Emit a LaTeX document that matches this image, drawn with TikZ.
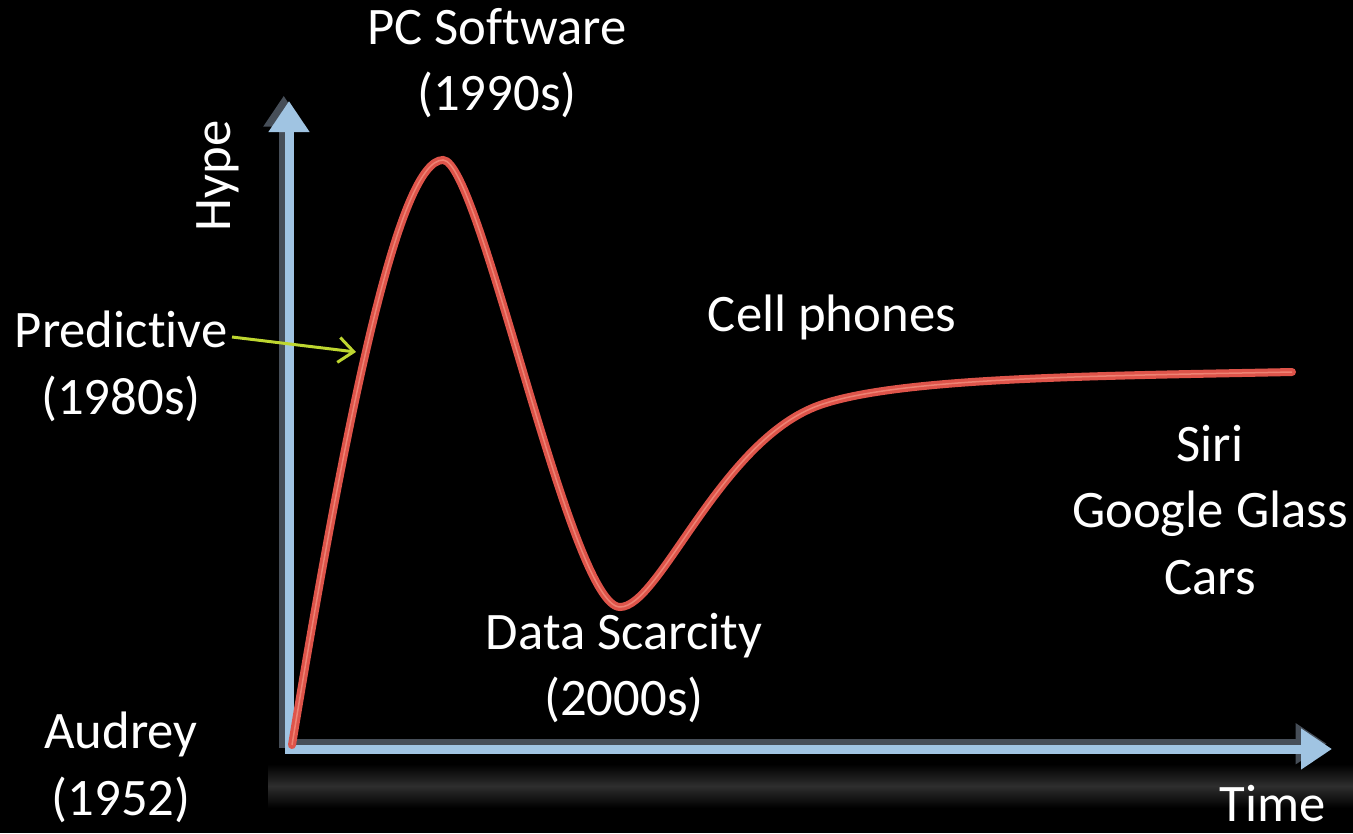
\documentclass[tikz,border=0pt]{standalone}
\usepackage{fontspec}
\setmainfont{Carlito}[Ligatures=NoCommon]
\usetikzlibrary{arrows.meta}
\definecolor{axisblue}{RGB}{160,196,226}
\definecolor{axisshadow}{RGB}{70,78,88}
\definecolor{curvered}{RGB}{222,84,74}
\definecolor{curvelight}{RGB}{238,130,115}
\definecolor{arrowgreen}{RGB}{190,214,48}
\tikzset{
  lbl/.style={text=white, font=\fontsize{30}{38}\selectfont, align=center, inner sep=0pt},
  axisline/.style={draw=axisblue, line width=0.18cm, line join=miter,
    {Triangle[width=0.78cm,length=0.62cm]}-{Triangle[width=0.78cm,length=0.62cm]}},
  shadowline/.style={draw=axisshadow, line width=0.18cm, line join=miter,
    {Triangle[width=0.78cm,length=0.62cm]}-{Triangle[width=0.78cm,length=0.62cm]}},
  curve/.style={draw=curvered, line width=0.16cm, line cap=round},
  curvehl/.style={draw=curvelight, line width=0.03cm},
  pointer/.style={draw=arrowgreen, line width=0.06cm, -{Straight Barb[length=0.3cm,width=0.5cm]}}
}
\begin{document}
\begin{tikzpicture}[x=0.02cm, y=-0.02cm]
  \fill[black] (0,0) rectangle (1353,833);
  \useasboundingbox (0,0) rectangle (1353,833);
  % floor glow
  \shade[top color=black, bottom color=black, middle color=gray!36!black] (268,764) rectangle (1353,808);
  % axes
  \coordinate (O) at (289,749);
  \coordinate (ytip) at (289,101);
  \coordinate (xtip) at (1332,749);
  \draw[shadowline] ([xshift=-3,yshift=3]ytip) -- ([xshift=-3,yshift=3]O) -- ([xshift=-3,yshift=3]xtip);
  \draw[axisline] (ytip) -- (O) -- (xtip);
  % hype curve
  \coordinate (start) at (292,745);
  \coordinate (peak) at (443,160);
  \coordinate (trough) at (620,607);
  \coordinate (knee) at (820,405);
  \coordinate (end) at (1292,372);
  \foreach \st in {curve,curvehl}{
    \draw[\st] (start) .. controls (350,395) and (400,160) .. (peak)
      .. controls (480,160) and (570,607) .. (trough)
      .. controls (660,607) and (720,440) .. (knee)
      .. controls (900,377) and (1100,376) .. (end);
  }
  % labels
  \node[lbl] (pc) at (497,63) {PC Software\\(1990s)};
  \node[lbl, rotate=90] (hype) at (218,176) {Hype};
  \node[lbl] (pred) at (121,366) {Predict\kern0pt ive\\(1980s)};
  \node[lbl] (cell) at (832,317) {Cell phones};
  \node[lbl] (siri) at (1210,510) {Siri\\Google Glass\\Cars};
  \node[lbl] (data) at (624,668) {Data Scarcity\\(2000s)};
  \node[lbl] (aud) at (121,767) {Audrey\\(1952)};
  \node[lbl, anchor=east] (time) at (1326,804) {Time};
  % pointer
  \coordinate (predstart) at (232,337);
  \coordinate (predtip) at (356,352);
  \draw[pointer] (predstart) -- (predtip);
\end{tikzpicture}
\end{document}
